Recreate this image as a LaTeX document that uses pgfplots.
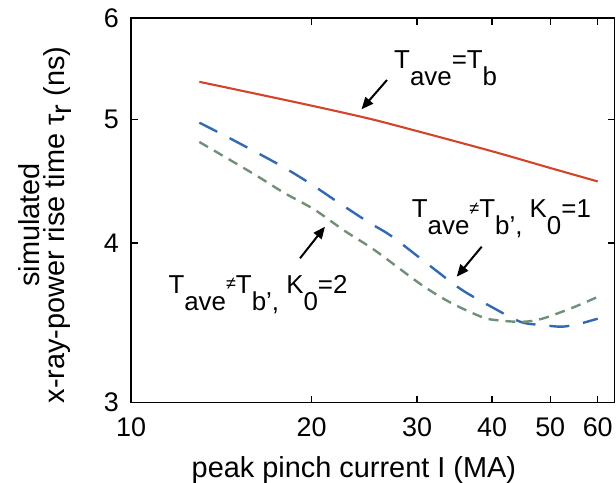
\documentclass[border=0pt]{standalone}
\usepackage{fontspec}
\setmainfont{Liberation Sans}
\usepackage{pgfplots}
\pgfplotsset{compat=1.18}
\usetikzlibrary{arrows.meta}
\definecolor{cred}{RGB}{212,68,40}
\definecolor{cblue}{RGB}{50,105,180}
\definecolor{cgreen}{RGB}{112,144,120}
\newcommand{\sub}[1]{\raisebox{-17bp}{#1}}
\newcommand{\neqsym}{\raisebox{3.5bp}{\fontsize{18}{18}\selectfont ≠}}
\begin{document}
\begin{tikzpicture}[font=\fontsize{26}{22}\selectfont]
\begin{axis}[
  at={(0,0)}, anchor=south west,
  scale only axis, width=483.5bp, height=384.2bp,
  xmode=log, ymode=log,
  xmin=10, xmax=64, ymin=3, ymax=6,
  xtick={10,20,30,40,50,60}, xticklabels={10,20,30,40,50,60},
  ytick={3,4,5,6}, yticklabels={3,4,5,6},
  xminorticks=false, yminorticks=false,
  xtick pos=both, ytick pos=both,
  xticklabel pos=lower, yticklabel pos=left,
  tick align=inside, major tick length=7bp,
  axis line style={line width=1.6bp},
  every tick/.style={black, line width=1.4bp},
  tick label style={font=\fontsize{27}{27}\selectfont, inner sep=0pt},
  xticklabel style={yshift=-15.5bp},
  yticklabel style={xshift=-12bp},
  every axis x label/.style={at={(axis description cs:0.461,-0.194)}, anchor=base, inner sep=0pt, font=\fontsize{29}{29}\selectfont},
  every axis y label/.style={at={(axis description cs:-0.177,0.462)}, rotate=90, anchor=center, align=center, inner sep=0pt, font=\fontsize{29}{25}\selectfont},
  xlabel={peak pinch current I (MA)},
  ylabel={simulated\\x-ray-power rise time τ\raisebox{-7bp}{r} (ns)},
]
\addplot[cred, line width=2.1bp, smooth] coordinates {
 (13,5.35) (15,5.275) (20,5.125) (25,5.005) (30,4.895) (40,4.72) (50,4.58) (60,4.47)};
\addplot[cblue, line width=2.4bp, dash pattern=on 20bp off 14bp, smooth] coordinates {
 (13,4.97) (14.64,4.83) (17.62,4.61) (19.8,4.46) (22.23,4.30) (24.95,4.15) (27.18,4.05)
 (31.5,3.84) (35.5,3.68) (39.7,3.57) (44.6,3.47) (48.5,3.45) (52.4,3.44) (56.2,3.46) (60,3.49)};
\addplot[cgreen, line width=2.4bp, dash pattern=on 10bp off 7bp, smooth] coordinates {
 (13,4.80) (16.03,4.53) (17.99,4.38) (20.2,4.25) (22.69,4.09) (25.47,3.95) (30.5,3.71)
 (34.2,3.59) (38.5,3.50) (40.8,3.48) (44.9,3.47) (48.5,3.49) (54.5,3.56) (60,3.63)};
\end{axis}
% annotations
\draw[line width=2bp, -{Triangle[length=12bp,width=10bp]}] (256bp,322.5bp) -- (230.5bp,293.2bp);
\draw[line width=2bp, -{Triangle[length=12bp,width=10bp]}] (350.7bp,155.8bp) -- (325.7bp,125.8bp);
\draw[line width=2bp, -{Triangle[length=12bp,width=10bp]}] (169bp,144.2bp) -- (194bp,175.8bp);
\node[anchor=base west, inner sep=0pt] at (263bp,334.2bp) {T\sub{ave}=T\sub{b}};
\node[anchor=base west, inner sep=0pt] at (280.7bp,184.8bp) {T\sub{ave}\neqsym T\sub{b’,} K\sub{0}=1};
\node[anchor=base west, inner sep=0pt] at (37.3bp,109.2bp) {T\sub{ave}\neqsym T\sub{b’,} K\sub{0}=2};
\pgfresetboundingbox
\path[use as bounding box] (-131bp,-80.5bp) rectangle (485bp,402.5bp);
\end{tikzpicture}
\end{document}
